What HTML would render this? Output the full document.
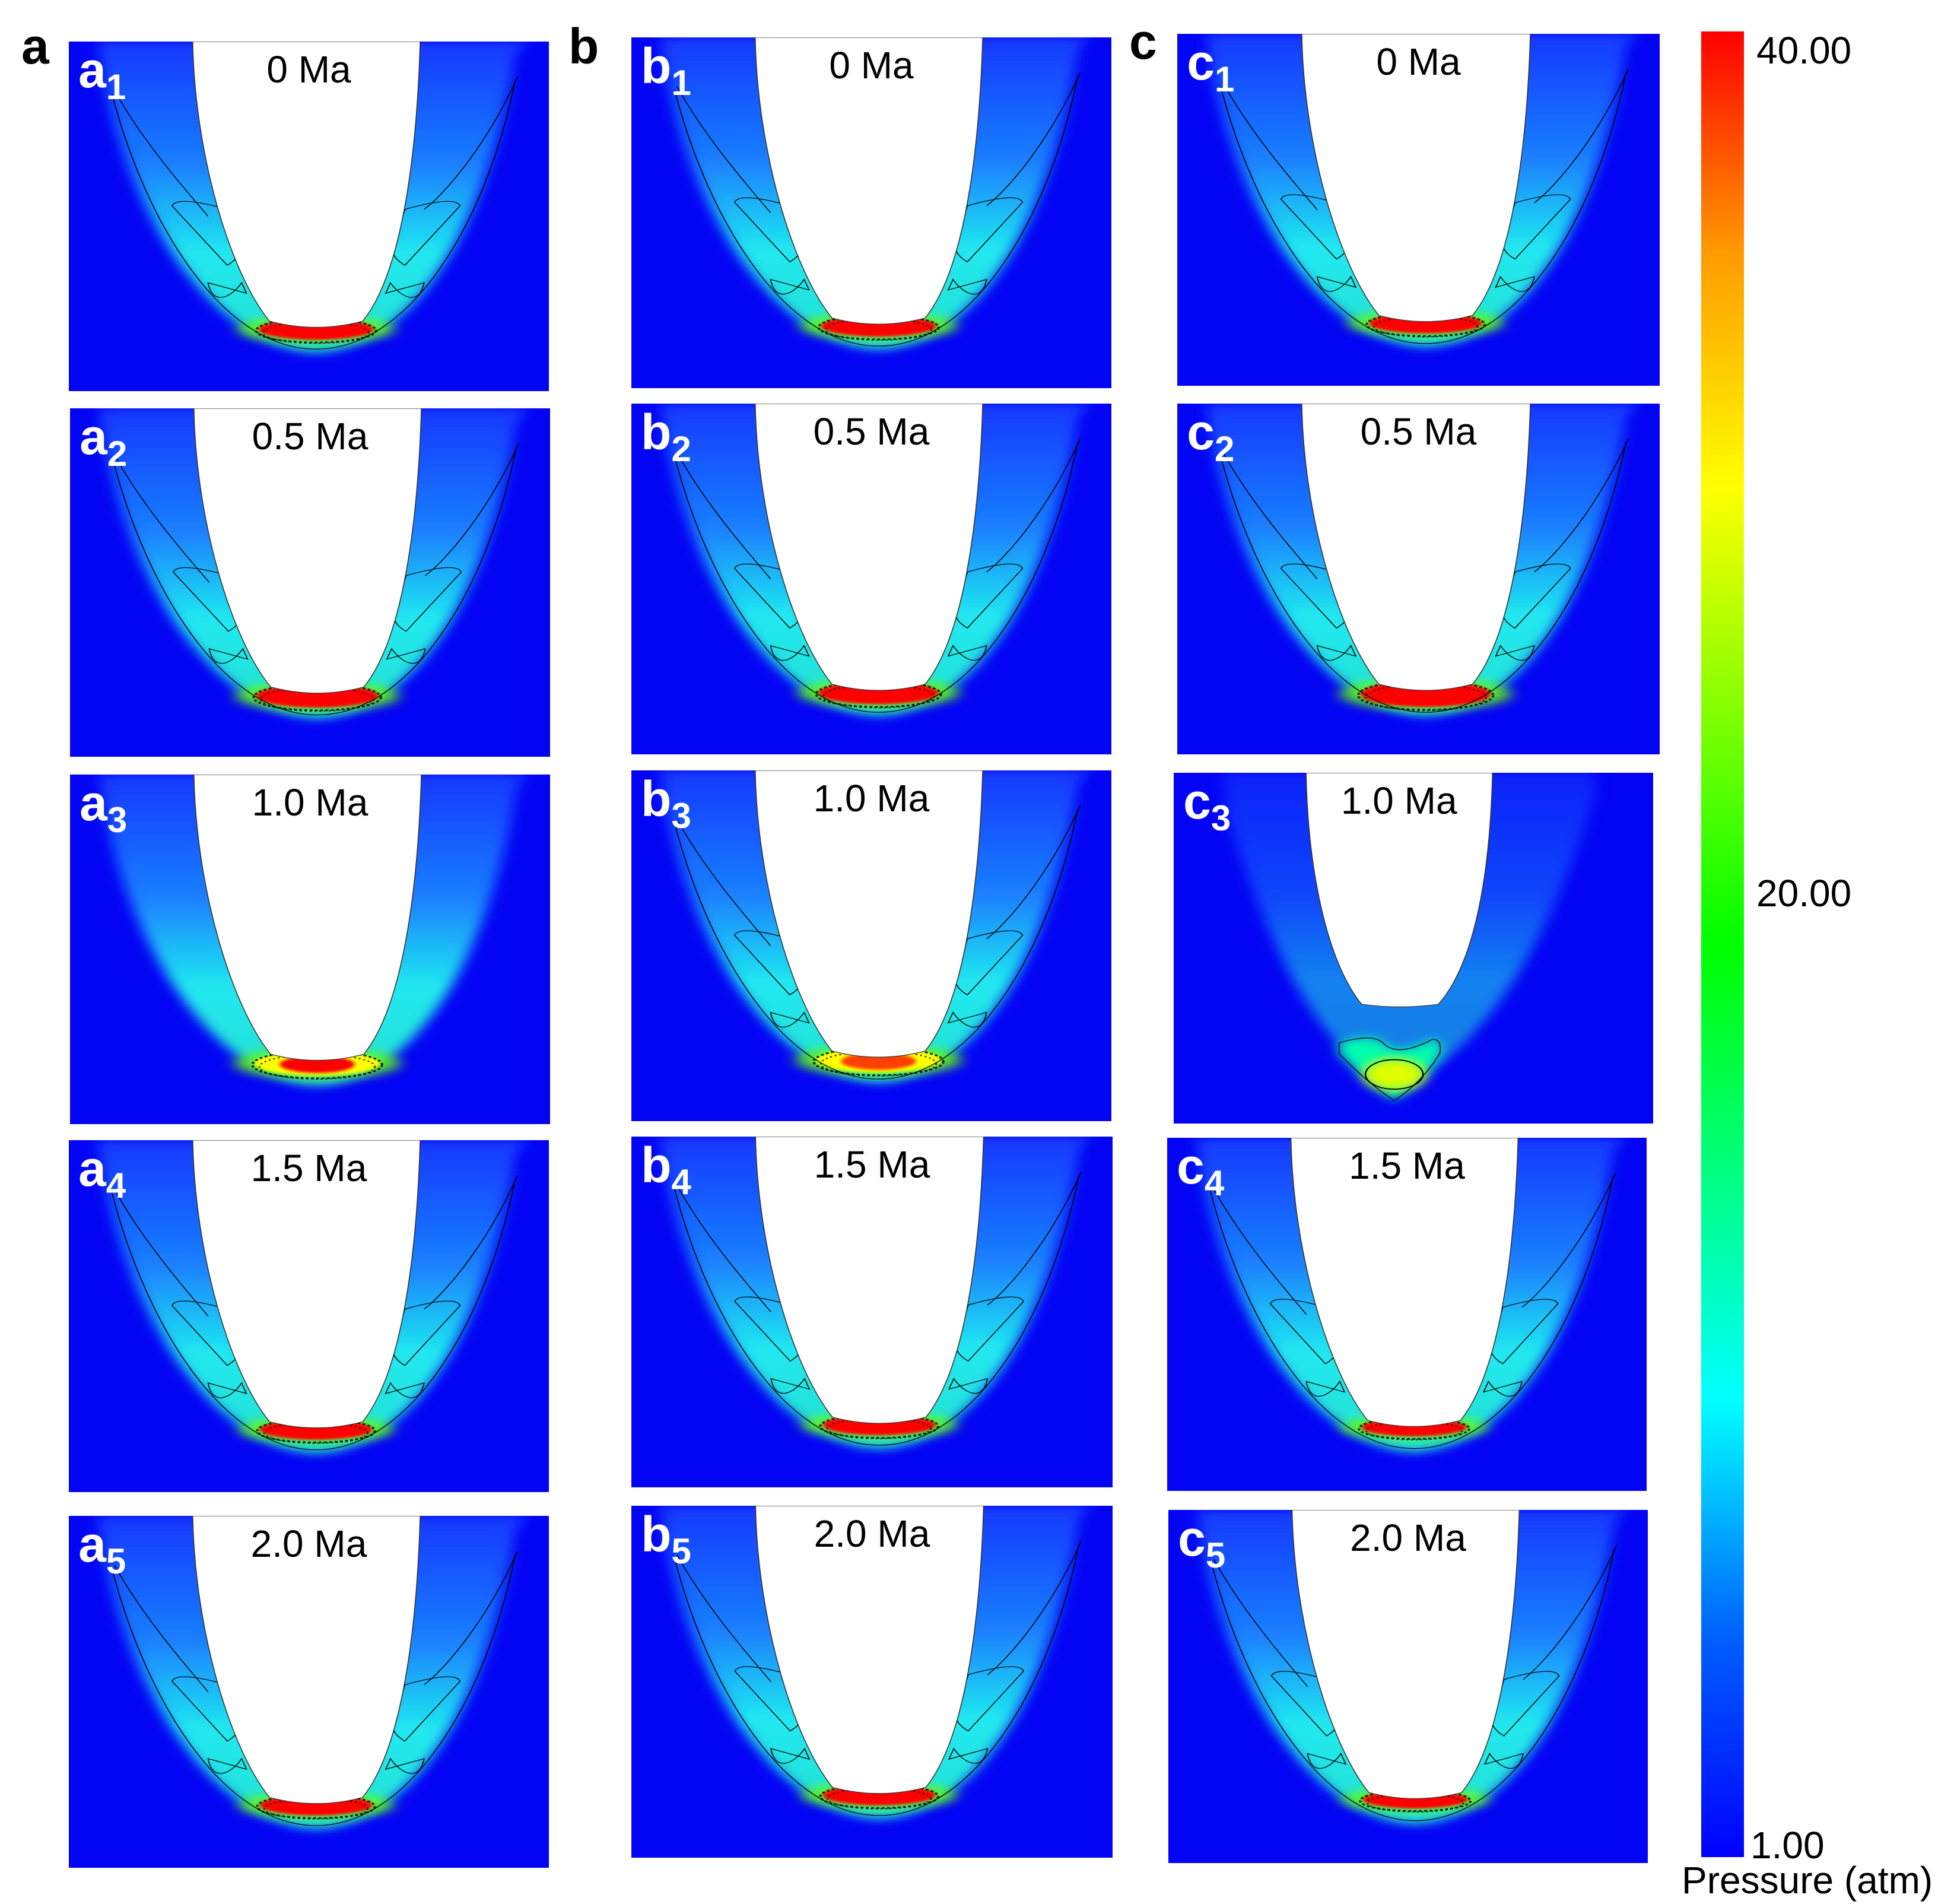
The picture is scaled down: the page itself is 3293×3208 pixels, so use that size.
<!DOCTYPE html>
<html><head><meta charset="utf-8">
<style>
html,body{margin:0;padding:0;background:#fff;}
body{width:3293px;height:3208px;position:relative;overflow:hidden;font-family:"Liberation Sans",Arial,sans-serif;}
.p{position:absolute;}
.col{position:absolute;font-weight:bold;font-size:84px;color:#000;line-height:1;}
.lab{position:absolute;font-size:62px;color:#000;line-height:1;}
</style></head>
<body>
<div class="col" style="left:36px;top:36px">a</div>
<div class="col" style="left:958px;top:36px">b</div>
<div class="col" style="left:1903px;top:28px">c</div>
<div id="panels"></div>
<svg class="p" style="left:2860px;top:40px" width="90" height="3100">
<defs><linearGradient id="cb" x1="0" y1="1" x2="0" y2="0">
<stop offset="0" stop-color="#0000ff"/><stop offset="0.12" stop-color="#0060ff"/><stop offset="0.25" stop-color="#00ffff"/><stop offset="0.5" stop-color="#00ff00"/><stop offset="0.75" stop-color="#ffff00"/><stop offset="0.88" stop-color="#ff9900"/><stop offset="1" stop-color="#ff0000"/></linearGradient></defs>
<rect x="7" y="13" width="72" height="3076" fill="url(#cb)"/>
</svg>
<div id="cbl"></div>
<div class="lab" style="left:2834px;top:3136px;font-size:64px">Pressure (atm)</div>
<script>
const panelIds=['a1','a2','a3','a4','a5','b1','b2','b3','b4','b5','c1','c2','c3','c4','c5'];
const timeLabels=['0 Ma','0.5 Ma','1.0 Ma','1.5 Ma','2.0 Ma','0 Ma','0.5 Ma','1.0 Ma','1.5 Ma','2.0 Ma','0 Ma','0.5 Ma','1.0 Ma','1.5 Ma','2.0 Ma'];
const peakLevel=[1,1,0.75,1,1,1,1,0.75,1,1,1,1,0.6,1,1];
const coreLevel=[1,1,1,1,1,1,1,0.95,1,1,1,1,0.72,1,1];
const bandSize=[1,1.3,1.4,0.9,0.9,1,1.2,1.4,0.9,0.9,0.9,1.6,1,0.6,0.6];
const cbTicks=['1.00','20.00','40.00'];
const cbValues=[1,20,40];
const boxes=[[116,70,809,589],[118,688,809,587],[118,1305,809,589],[116,1921,809,593],[116,2554,809,593],
[1064,63,809,591],[1064,680,809,591],[1064,1298,809,591],[1064,1915,811,591],[1064,2537,811,593],
[1984,57,813,593],[1984,680,813,591],[1978,1302,808,591],[1967,1917,808,595],[1969,2544,808,595]];
function jet(t){const s=[[0,[0,0,255]],[0.12,[0,96,255]],[0.25,[0,255,255]],[0.5,[0,255,0]],[0.75,[255,255,0]],[0.88,[255,150,0]],[1,[255,0,0]]];
for(let i=1;i<s.length;i++){if(t<=s[i][0]){const a=s[i-1],b=s[i],f=(t-a[0])/(b[0]-a[0]);return 'rgb('+a[1].map((v,k)=>Math.round(v+(b[1][k]-v)*f)).join(',')+')';}}return 'rgb(255,0,0)';}
const host=document.getElementById('panels');
panelIds.forEach((id,i)=>{
 const [x,y,w,h]=boxes[i];const pk=peakLevel[i],bs=bandSize[i],ck=coreLevel[i];
 const c3=id==='c3';
 const wrap=document.createElement('div');
 wrap.className='p';wrap.style.cssText=`left:${x}px;top:${y}px;width:${w}px;height:${h}px`;
 
 
 let inner,outer,band,lines='';
 if(!c3){
  inner='M258 0 C262 320 335 660 418 800 Q515 835 612 800 C695 660 725 320 732 0 Z';
  outer='M70 90 C120 480 300 880 515 890 C730 880 880 480 930 40 L955 0 L690 0 L690 300 L340 300 L340 0 L60 0 Z';
  const cy=815+8*bs, rx=95+25*bs, ry=18+12*bs;
  band=`<ellipse cx="515" cy="${cy}" rx="${rx+45}" ry="${ry+8}" fill="${jet(0.6)}" opacity="0.8" filter="url(#bb${i})"/>
   <ellipse cx="515" cy="${cy}" rx="${rx}" ry="${ry}" fill="${jet(pk)}" filter="url(#bl${i})"/>
   <ellipse cx="515" cy="${cy+3}" rx="${rx*0.6}" ry="${ry*0.7}" fill="${jet(ck)}" filter="url(#bl${i})"/>
   <ellipse cx="515" cy="${cy+4}" rx="${rx+5}" ry="${ry+4}" fill="none" stroke="#000" stroke-width="5" stroke-dasharray="6 5" opacity="0.8"/>
   <ellipse cx="515" cy="${cy+10}" rx="${rx-10}" ry="${ry}" fill="none" stroke="#000" stroke-width="4" stroke-dasharray="4 6" opacity="0.7"/>`;
  if(id!=='a3') lines=`<path d="M90 150 C160 520 320 880 515 880 C710 880 870 520 930 110" fill="none" stroke="#000" stroke-width="2"/>
   <path d="M95 140 C160 300 260 450 290 500" fill="none" stroke="#000" stroke-width="2"/>
   <path d="M935 100 C870 300 780 440 740 480" fill="none" stroke="#000" stroke-width="2"/>
   <path d="M330 480 C345 560 380 600 330 640 L215 470 Q225 440 330 480Z" fill="none" stroke="#000" stroke-width="2"/>
   <path d="M700 480 C685 560 650 600 700 640 L815 470 Q805 440 700 480Z" fill="none" stroke="#000" stroke-width="2"/>
   <path d="M360 690 C340 730 300 760 290 690 L370 720Z" fill="none" stroke="#000" stroke-width="2"/>
   <path d="M670 690 C690 730 730 760 740 690 L660 720Z" fill="none" stroke="#000" stroke-width="2"/>`;
 } else {
  inner='M276 0 C280 280 320 540 392 660 Q470 675 552 660 C630 540 660 280 665 0 Z';
  outer='M110 120 C200 500 300 800 470 900 C640 800 780 500 880 60 L880 0 L100 0 Z';
  band=`<path d="M345 770 Q420 740 440 775 Q470 810 540 760 Q560 760 555 800 Q520 880 460 935 Q400 880 345 800Z" fill="${jet(0.33)}" filter="url(#bl${i})"/>
   <ellipse cx="460" cy="860" rx="65" ry="45" fill="${jet(ck)}" filter="url(#bl${i})"/>
   <path d="M345 770 Q420 740 440 775 Q470 810 540 760 Q560 760 555 800 Q520 880 460 935 Q400 880 345 800Z" fill="none" stroke="#000" stroke-width="2"/>
   <ellipse cx="460" cy="860" rx="60" ry="42" fill="none" stroke="#000" stroke-width="3"/>`;
 }
 wrap.innerHTML=`<svg width="${w}" height="${h}" viewBox="0 0 1000 1000" preserveAspectRatio="none" style="display:block">
 <defs><linearGradient id="pg${i}" x1="0" y1="0" x2="0" y2="1"><stop offset="0" stop-color="#1238ff"/><stop offset="0.4" stop-color="#1a80ff"/><stop offset="${c3?0.65:0.68}" stop-color="#20e8f0"/><stop offset="1" stop-color="#20e0d0"/></linearGradient>
 <filter id="bl${i}" x="-50%" y="-50%" width="200%" height="200%"><feGaussianBlur stdDeviation="${c3?14:4}"/></filter>
 <filter id="bb${i}" x="-50%" y="-50%" width="200%" height="200%"><feGaussianBlur stdDeviation="14"/></filter></defs>
 <rect width="1000" height="1000" fill="#0404f4"/>
 <path d="${outer}" fill="url(#pg${i})" opacity="${c3?0.55:1}" filter="url(#bb${i})"/>
 ${band}${lines}
 <path d="${inner}" fill="#fff" stroke="#333" stroke-width="2"/>
 </svg>
 <div style="position:absolute;left:${w*0.02}px;top:${h*0.01}px;color:#fff;font-weight:bold;font-size:84px;line-height:1">${id[0]}<sub style="font-size:60px;vertical-align:-20px">${id[1]}</sub></div>
 <div style="position:absolute;left:${w*(c3?0.47:0.5)}px;top:${h*0.02}px;transform:translateX(-50%);font-size:64px;color:#000;line-height:1.1;white-space:nowrap">${timeLabels[i]}</div>`;
 host.appendChild(wrap);
});
const cbl=document.getElementById('cbl');
const cbY=v=>v<=20?3129-(3129-1505)*(v-1)/19:1505-(1505-53)*(v-20)/20;
cbTicks.forEach((t,k)=>{
 const d=document.createElement('div');d.className='lab';
 
 
 let top=cbY(cbValues[k])-32;if(k===0)top-=20;if(k===2)top+=32;
 d.style.cssText=`left:${k===0?2950:2960}px;top:${top}px;font-size:64px`;d.textContent=t;cbl.appendChild(d);
});
</script>
</body></html>
